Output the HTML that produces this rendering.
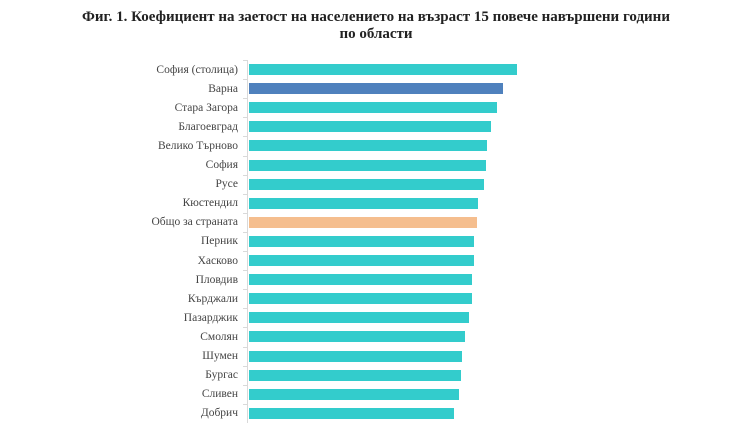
<!DOCTYPE html>
<html><head><meta charset="utf-8"><style>
body{margin:0;width:752px;height:423px;background:#fff;overflow:hidden;font-family:"Liberation Serif",serif;}
.t{position:absolute;left:0;width:752px;text-align:center;font-weight:bold;font-size:15px;color:#222;}
.l{position:absolute;right:514px;font-size:11.5px;color:#444;white-space:nowrap;line-height:12px;}
.b{position:absolute;left:249px;height:11px;background:#33CCCC;}
.ax{position:absolute;left:247px;top:60px;width:1px;height:363px;background:#d9d9d9;}
.tk{position:absolute;left:243px;width:4px;height:1px;background:#d9d9d9;}
</style></head><body>
<div class="t" style="top:9px">Фиг. 1. Коефициент на заетост на населението на възраст 15 повече навършени години</div>
<div class="t" style="top:26px">по области</div>
<div class="ax"></div>
<div id="c"></div>
<script>
var d=[["София (столица)",517],["Варна",503,"#4F81BD"],["Стара Загора",497],["Благоевград",491],["Велико Търново",487],["София",486],["Русе",484],["Кюстендил",478],["Общо за страната",477,"#F5BE8E"],["Перник",474],["Хасково",474],["Пловдив",472],["Кърджали",472],["Пазарджик",469],["Смолян",465],["Шумен",462],["Бургас",461],["Сливен",459],["Добрич",454]];
var h="";
for(var i=0;i<d.length;i++){var y=64+i*19.1;
h+='<div class="l" style="top:'+(y-0.5)+'px">'+d[i][0]+'</div>';
h+='<div class="b" style="top:'+y+'px;width:'+(d[i][1]-249)+'px;'+(d[i][2]?'background:'+d[i][2]:'')+'"></div>';
h+='<div class="tk" style="top:'+(y-4)+'px"></div>';}
document.getElementById("c").innerHTML=h;
</script>
</body></html>
